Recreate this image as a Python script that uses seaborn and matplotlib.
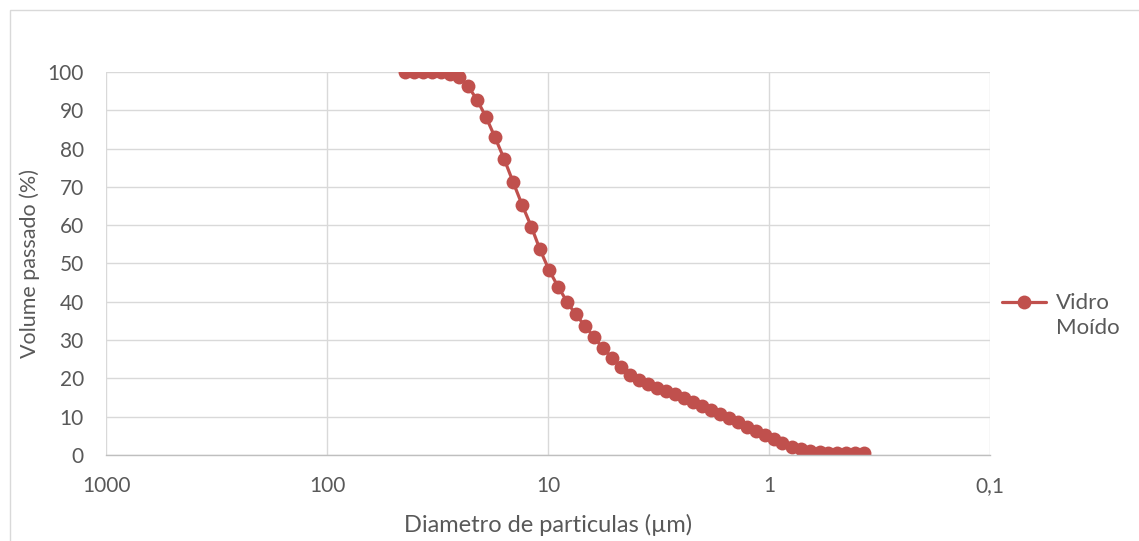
import numpy as np
import pandas as pd
import matplotlib
matplotlib.use("Agg")
import matplotlib.pyplot as plt
import seaborn as sns
from matplotlib.patches import Rectangle

# particle diameter (um) and cumulative passing volume (%)
diametro = [44.4, 40.4, 36.8, 33.5, 30.5, 27.8, 25.3, 23.0, 21.0, 19.1,
            17.4, 15.8, 14.4, 13.1, 11.9, 10.9, 9.9, 9.0, 8.2, 7.5,
            6.8, 6.2, 5.65, 5.14, 4.68, 4.26, 3.88, 3.53, 3.22, 2.93,
            2.67, 2.43, 2.21, 2.01, 1.83, 1.67, 1.52, 1.38, 1.26, 1.15,
            1.04, 0.95, 0.87, 0.79, 0.72, 0.65, 0.59, 0.54, 0.49, 0.45,
            0.41, 0.37]
volume = [100.0, 100.0, 100.0, 100.0, 99.9, 99.5, 98.6, 96.3, 92.8, 88.3,
          83.0, 77.3, 71.3, 65.3, 59.6, 53.8, 48.3, 43.9, 40.0, 36.7,
          33.7, 30.8, 27.9, 25.4, 23.0, 21.0, 19.6, 18.5, 17.6, 16.7,
          15.8, 14.9, 13.9, 12.8, 11.8, 10.8, 9.7, 8.6, 7.4, 6.3,
          5.2, 4.1, 3.1, 2.2, 1.5, 1.0, 0.7, 0.5, 0.4, 0.4,
          0.4, 0.4]
serie = "Vidro\nMoído"

x_ticks = [1000, 100, 10, 1, 0.1]
x_labels = ["1000", "100", "10", "1", "0,1"]
y_ticks = list(range(0, 101, 10))

df = pd.DataFrame({"Diametro": diametro, "Volume": volume, "Serie": serie})

sns.set_style("white")
plt.rcParams["font.family"] = ["Lato", "DejaVu Sans"]

fig = plt.figure(figsize=(11.39, 5.41), dpi=100)
ax = fig.add_axes([0.0931, 0.159, 0.7761, 0.708])

red = "#C0504D"
txt = "#595959"
grid = "#D9D9D9"

sns.lineplot(data=df, x="Diametro", y="Volume", hue="Serie", palette=[red],
             marker="o", markersize=10, markeredgewidth=0, linewidth=2.3,
             ax=ax, sort=False, estimator=None)

ax.set_xscale("log")
ax.set_xlim(1000, 0.1)
ax.set_ylim(0, 100)
ax.set_xticks(x_ticks)
ax.set_xticklabels(x_labels)
ax.minorticks_off()
ax.set_yticks(y_ticks)

ax.grid(True, color=grid, linewidth=1)
ax.set_axisbelow(True)
for s in ["top", "right", "left"]:
    ax.spines[s].set_visible(False)
ax.spines["bottom"].set_color("#BFBFBF")
ax.spines["bottom"].set_linewidth(1)

ax.tick_params(axis="both", length=0, labelsize=15, colors=txt)
ax.tick_params(axis="x", pad=15)
ax.tick_params(axis="y", pad=16)

ax.set_xlabel("Diametro de particulas (µm)", fontsize=17, color=txt, labelpad=13)
ax.set_ylabel("Volume passado (%)", fontsize=15.5, color=txt, labelpad=5)

leg = ax.legend(loc="center left", bbox_to_anchor=(1.003, 0.365), frameon=False,
                fontsize=16, labelcolor=txt, handlelength=2.0, handletextpad=0.45,
                borderaxespad=0.0)
leg.get_texts()[0].set_linespacing(1.3)
# put the handle level with the first line of the two-line label
for h in leg.get_lines():
    h.set_ydata(np.asarray(h.get_ydata(), dtype=float) + 10)

fig.patches.append(Rectangle((0.009, -0.01), 1.2, 0.992, transform=fig.transFigure,
                             fill=False, edgecolor="#D9D9D9", linewidth=1))

fig.savefig("out.png", dpi=100)
